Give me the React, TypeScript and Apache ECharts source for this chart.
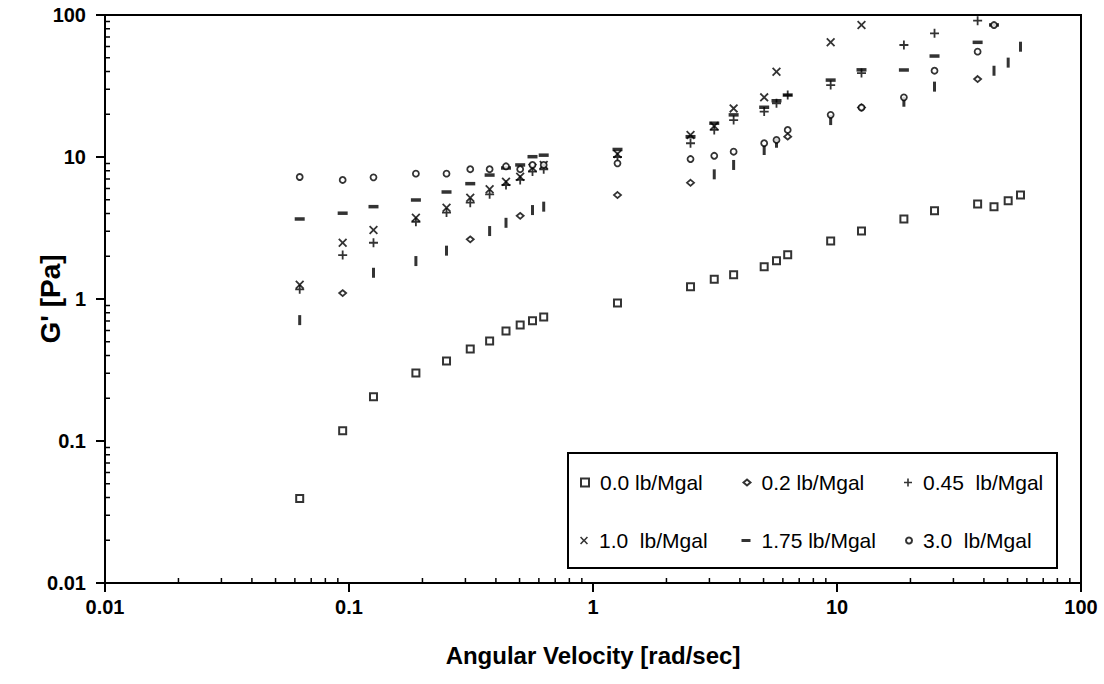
import React, { useEffect, useRef } from "react";
import * as echarts from "echarts";

// Angular velocity [rad/sec]
const FREQ = [0.0628, 0.0942, 0.126, 0.188, 0.251, 0.314, 0.377, 0.44, 0.503, 0.565, 0.628, 1.26, 2.51, 3.14, 3.77, 5.03, 5.65, 6.28, 9.42, 12.6, 18.8, 25.1, 37.7, 44.0, 50.3, 56.5];

// G' [Pa] per concentration (null = no point)
const G_00 = [0.0393, 0.118, 0.205, 0.301, 0.366, 0.445, 0.506, 0.595, 0.656, 0.704, 0.747, 0.937, 1.22, 1.38, 1.48, 1.69, 1.86, 2.05, 2.56, 3.01, 3.66, 4.19, 4.67, 4.47, 4.92, 5.4];
const G_02 = [null, 1.1, null, null, null, 2.63, null, null, 3.85, null, null, 5.4, 6.59, null, null, null, null, 13.9, null, 22.3, null, null, 35.4, null, null, null];
const G_02B = [0.71, null, 1.53, 1.85, 2.19, null, 3.01, 3.44, null, 4.23, 4.47, null, null, 7.55, 8.79, 11.2, 12.6, null, 18.2, null, 24.5, 31.3, null, 40.5, 46.2, 59.8];
const G_045 = [1.17, 2.04, 2.49, 3.5, 4.06, 4.77, 5.46, 6.35, 6.9, 7.9, 8.2, 10.0, 12.5, 15.5, 18.2, 20.9, 23.9, 27.3, 32.1, 39.0, 61.5, 74.3, 91.2, null, null, null];
const G_10 = [1.26, 2.49, 3.06, 3.74, 4.39, 5.17, 5.92, 6.7, 7.27, 8.4, 8.79, 10.5, 14.3, 16.5, 22.0, 26.3, 39.9, null, 64.2, 85.1, null, null, null, null, null, null];
const G_175 = [3.66, 4.02, 4.47, 4.98, 5.67, 6.49, 7.46, 8.37, 8.79, 10.05, 10.3, 11.3, 13.9, 17.3, 19.8, 22.4, 24.9, 27.3, 34.8, 41.1, 41.0, 51.4, 64.2, 85.1, null, null];
const G_30 = [7.23, 6.89, 7.19, 7.63, 7.63, 8.2, 8.2, 8.6, 8.2, 8.79, 8.8, 9.02, 9.68, 10.2, 10.9, 12.5, 13.2, 15.5, 19.8, 22.3, 26.3, 40.5, 55.2, 85.0, null, null];

const SERIES_NAMES = ["0.0 lb/Mgal", "0.2 lb/Mgal", "0.45  lb/Mgal", "1.0  lb/Mgal", "1.75 lb/Mgal", "3.0  lb/Mgal"];

// Axis ticks
const MAJOR_TICKS = [0.01, 0.1, 1, 10, 100];
const DECADES = [0.01, 0.1, 1, 10];
const MINOR_MULTIPLIERS = [2, 3, 4, 5, 6, 7, 8, 9];

const PLUS_PATH = "path://M4,0H6V4H10V6H6V10H4V6H0V4H4Z";
const CROSS_PATH = "path://M0,1.4L1.4,0L5,3.6L8.6,0L10,1.4L6.4,5L10,8.6L8.6,10L5,6.4L1.4,10L0,8.6L3.6,5Z";

function pairs(vals: (number | null)[]) {
  const out: number[][] = [];
  vals.forEach((v, i) => {
    if (v !== null) out.push([FREQ[i], v]);
  });
  return out;
}

const FONT = "'Liberation Sans', Arial, sans-serif";

export default function App() {
  const ref = useRef<HTMLDivElement>(null);

  useEffect(() => {
    if (!ref.current) return;
    const chart = echarts.init(ref.current, null, { renderer: "svg" });

    const minorVals: number[] = [];
    DECADES.forEach((d) => MINOR_MULTIPLIERS.forEach((m) => minorVals.push(Number((d * m).toPrecision(3)))));

    const hollow = (w: number) => ({ color: "#fff", borderColor: "#000", borderWidth: w });
    const solid = { color: "#000" };

    const fmt = (v: number) => {
      const s = Number(Number(v).toPrecision(3));
      return MAJOR_TICKS.indexOf(s) >= 0 ? String(s) : "";
    };

    const legendRows = [472, 530];
    const legendCols = [580, 742, 904];
    const legendIcons: any[] = [
      { icon: "rect", w: 8, h: 8 },
      { icon: "diamond", w: 7, h: 6 },
      { icon: PLUS_PATH, w: 8, h: 8 },
      { icon: CROSS_PATH, w: 8, h: 8 },
      { icon: "rect", w: 9, h: 3 },
      { icon: "circle", w: 6, h: 6 },
    ];
    const legends = SERIES_NAMES.map((name, i) => {
      const row = Math.floor(i / 3);
      const col = i % 3;
      const ic = legendIcons[i];
      return {
        left: legendCols[col] + (8 - ic.w) / 2,
        top: legendRows[row],
        padding: 0,
        itemWidth: ic.w,
        itemHeight: ic.h,
        selectedMode: false,
        data: [{ name, icon: ic.icon }],
        textStyle: { fontSize: 21, fontFamily: FONT, color: "#000", padding: [0, 0, 0, 6] },
        z: 10,
      };
    });

    const scatter = (name: string, vals: (number | null)[], symbol: string, size: any, itemStyle: any) => ({
      type: "scatter",
      name,
      data: pairs(vals),
      symbol,
      symbolSize: size,
      itemStyle,
      emphasis: { disabled: true },
      z: 2,
    });

    chart.setOption({
      animation: false,
      backgroundColor: "#fff",
      textStyle: { fontFamily: FONT },
      grid: {
        left: 105,
        top: 15,
        width: 976,
        height: 568,
        containLabel: false,
        show: true,
        borderColor: "#000",
        borderWidth: 2,
        backgroundColor: "transparent",
      },
      legend: legends,
      graphic: [
        {
          type: "rect",
          z: 5,
          shape: { x: 568, y: 453, width: 489, height: 115 },
          style: { fill: "#fff", stroke: "#000", lineWidth: 2 },
        },
      ],
      xAxis: {
        type: "log",
        logBase: 10,
        min: 0.01,
        max: 100,
        name: "Angular Velocity [rad/sec]",
        nameLocation: "middle",
        nameGap: 60,
        nameMoveOverlap: false,
        nameTextStyle: { fontSize: 24, fontWeight: "bold", color: "#000", fontFamily: FONT },
        axisLine: { show: true, lineStyle: { color: "#000", width: 2 } },
        axisTick: { show: true, inside: false, length: 9, lineStyle: { color: "#000", width: 2 } },
        axisLabel: { fontSize: 20, fontWeight: "bold", color: "#000", margin: 14, formatter: fmt, fontFamily: FONT },
        splitLine: { show: false },
        minorTick: { show: false },
      },
      yAxis: {
        type: "log",
        logBase: 10,
        min: 0.01,
        max: 100,
        name: "G' [Pa]",
        nameLocation: "middle",
        nameGap: 41,
        nameMoveOverlap: false,
        nameTextStyle: { fontSize: 28, fontWeight: "bold", color: "#000", fontFamily: FONT },
        axisLine: { show: true, lineStyle: { color: "#000", width: 2 } },
        axisTick: { show: true, inside: false, length: 9, lineStyle: { color: "#000", width: 2 } },
        axisLabel: { fontSize: 20, fontWeight: "bold", color: "#000", margin: 19, formatter: fmt, fontFamily: FONT },
        splitLine: { show: false },
        minorTick: { show: false },
      },
      series: [
        scatter(SERIES_NAMES[0], G_00, "rect", 7, hollow(2)),
        scatter(SERIES_NAMES[1], G_02, "diamond", [7, 6], hollow(1.8)),
        scatter(SERIES_NAMES[1], G_02B, "rect", [3, 10], solid),
        scatter(SERIES_NAMES[2], G_045, PLUS_PATH, 9, solid),
        scatter(SERIES_NAMES[3], G_10, CROSS_PATH, 9, solid),
        scatter(SERIES_NAMES[4], G_175, "rect", [10, 3.5], solid),
        scatter(SERIES_NAMES[5], G_30, "circle", 6, hollow(1.8)),
        {
          type: "custom",
          name: "x minor ticks",
          silent: true,
          clip: false,
          z: 3,
          data: minorVals.map((v) => [v, 0.01]),
          renderItem: (params: any, api: any) => {
            const p = api.coord([api.value(0), api.value(1)]);
            return {
              type: "line",
              shape: { x1: p[0], y1: p[1], x2: p[0], y2: p[1] - 5 },
              style: { stroke: "#000", lineWidth: 1.5 },
            };
          },
        },
        {
          type: "custom",
          name: "y minor ticks",
          silent: true,
          clip: false,
          z: 3,
          data: minorVals.map((v) => [0.01, v]),
          renderItem: (params: any, api: any) => {
            const p = api.coord([api.value(0), api.value(1)]);
            return {
              type: "line",
              shape: { x1: p[0], y1: p[1], x2: p[0] + 5, y2: p[1] },
              style: { stroke: "#000", lineWidth: 1.5 },
            };
          },
        },
      ],
    });

    return () => chart.dispose();
  }, []);

  return (
    <div
      ref={ref}
      style={{ position: "fixed", left: 0, top: 0, width: 1104, height: 684, background: "#fff" }}
    />
  );
}
